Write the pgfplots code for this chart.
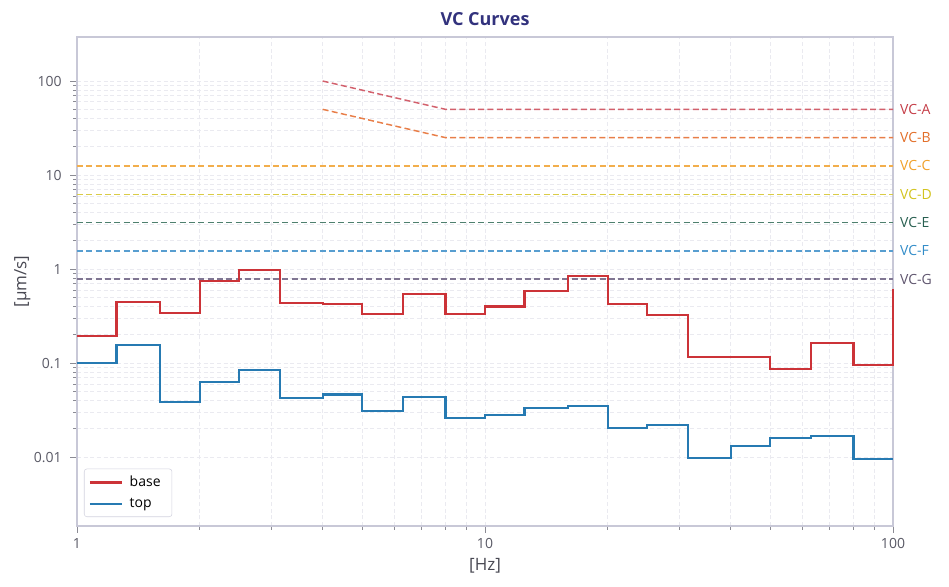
\documentclass[border=0pt]{standalone}
\usepackage{pgfplots}
\pgfplotsset{compat=1.18}
\usepackage{fontspec}
\setmainfont{Open Sans}
\definecolor{base}{RGB}{204,51,56}
\definecolor{top}{RGB}{38,122,178}
\definecolor{vcaL}{RGB}{210,96,108}\definecolor{vcaT}{RGB}{196,60,70}
\definecolor{vcbL}{RGB}{232,126,72}\definecolor{vcbT}{RGB}{226,110,40}
\definecolor{vccL}{RGB}{242,174,76}\definecolor{vccT}{RGB}{240,160,40}
\definecolor{vcdL}{RGB}{218,204,70}\definecolor{vcdT}{RGB}{210,195,30}
\definecolor{vceL}{RGB}{78,128,110}\definecolor{vceT}{RGB}{40,95,80}
\definecolor{vcfL}{RGB}{88,158,208}\definecolor{vcfT}{RGB}{50,140,200}
\definecolor{vcgL}{RGB}{128,118,146}\definecolor{vcgT}{RGB}{95,85,110}
\definecolor{titlec}{RGB}{50,50,125}
\definecolor{tickc}{RGB}{90,90,102}
\definecolor{framec}{RGB}{200,200,215}
\definecolor{gridc}{RGB}{234,234,240}
\pgfplotstableread{
f base top
1 0.194 0.100
1.25 0.446 0.157
1.6 0.340 0.0387
2 0.745 0.0623
2.5 0.970 0.0837
3.15 0.435 0.0422
4 0.424 0.0464
5 0.332 0.0311
6.3 0.542 0.0436
8 0.331 0.0263
10 0.400 0.0280
12.5 0.579 0.0330
16 0.836 0.0347
20 0.424 0.0205
25 0.322 0.0219
31.5 0.115 0.00968
40 0.115 0.0130
50 0.0866 0.0159
63 0.162 0.0167
80 0.095 0.00946
100 0.61 0.00946
}\data
\begin{document}
\begin{tikzpicture}
\useasboundingbox (-57.75bp,-45.75bp) rectangle (654bp,394.5bp);
\begin{axis}[
  at={(0,0)}, anchor=south west,
  scale only axis, width=612bp, height=366.75bp,
  xmode=log, ymode=log,
  xmin=1, xmax=100, ymin=0.00185, ymax=294,
  xtick={1,10,100}, xticklabels={1,10,100},
  ytick={0.01,0.1,1,10,100}, yticklabels={0.01,0.1,1,10,100},
  tick pos=left, tick align=outside,
  major tick length=5bp, minor tick length=3bp,
  every tick/.style={draw=tickc!70, line width=0.6bp},
  axis line style={draw=framec, line width=0.8bp},
  grid=both,
  major grid style={draw=gridc, dash pattern=on 3bp off 2bp, line width=0.6bp},
  minor grid style={draw=gridc, dash pattern=on 3bp off 2bp, line width=0.6bp},
  ticklabel style={font=\fontsize{10.5bp}{12bp}\selectfont, text=tickc},
  /pgf/number format/assume math mode=true,
  yticklabel style={xshift=-3bp},
  xticklabel style={yshift=-1bp},
  title={VC Curves},
  title style={font=\fontsize{13.5bp}{16bp}\selectfont\bfseries, text=titlec, at={(0.5,1)}, anchor=base, yshift=3bp},
  xlabel={[Hz]},
  xlabel style={font=\fontsize{12.75bp}{15bp}\selectfont, text=tickc!80!black, at={(0.5,0)}, anchor=base, yshift=-33.5bp},
  ylabel={[µm/s]},
  ylabel style={font=\fontsize{12.75bp}{15bp}\selectfont, text=tickc!80!black, at={(0,0.5)}, anchor=center, yshift=41bp},
  clip=false,
  legend style={at={(0,0)}, anchor=south west, xshift=5.25bp, yshift=6.75bp,
    draw=framec!80, rounded corners=2bp, fill=white, font=\fontsize{10.5bp}{12bp}\selectfont,
    inner sep=3.5bp, row sep=3bp,
    nodes={inner xsep=5bp}},
  legend cell align=left,
  legend image code/.code={\draw[#1, line width=1.6bp] (0bp,0bp) -- (24bp,0bp);},
]
\pgfplotsset{vc/.style={line width=1.1bp, dash pattern=on 4.5bp off 2.5bp}}
\addplot[vc, color=vcaL, forget plot] coordinates {(4,100) (8,50) (100,50)} node[pos=1, anchor=west, xshift=1.5bp, text=vcaT, font=\fontsize{10.5bp}{12bp}\selectfont] {VC-A};
\addplot[vc, color=vcbL, forget plot] coordinates {(4,50) (8,25) (100,25)} node[pos=1, anchor=west, xshift=1.5bp, text=vcbT, font=\fontsize{10.5bp}{12bp}\selectfont] {VC-B};
\addplot[vc, color=vccL, forget plot] coordinates {(1,12.5) (100,12.5)} node[pos=1, anchor=west, xshift=1.5bp, text=vccT, font=\fontsize{10.5bp}{12bp}\selectfont] {VC-C};
\addplot[vc, color=vcdL, forget plot] coordinates {(1,6.25) (100,6.25)} node[pos=1, anchor=west, xshift=1.5bp, text=vcdT, font=\fontsize{10.5bp}{12bp}\selectfont] {VC-D};
\addplot[vc, color=vceL, forget plot] coordinates {(1,3.125) (100,3.125)} node[pos=1, anchor=west, xshift=1.5bp, text=vceT, font=\fontsize{10.5bp}{12bp}\selectfont] {VC-E};
\addplot[vc, color=vcfL, forget plot] coordinates {(1,1.5625) (100,1.5625)} node[pos=1, anchor=west, xshift=1.5bp, text=vcfT, font=\fontsize{10.5bp}{12bp}\selectfont] {VC-F};
\addplot[vc, color=vcgL, forget plot] coordinates {(1,0.78) (100,0.78)} node[pos=1, anchor=west, xshift=1.5bp, text=vcgT, font=\fontsize{10.5bp}{12bp}\selectfont] {VC-G};
\addplot[const plot, color=base, line width=1.6bp] table[x=f, y=base] {\data};
\addlegendentry{base}
\addplot[const plot, color=top, line width=1.6bp] table[x=f, y=top] {\data};
\addlegendentry{top}
\end{axis}
\end{tikzpicture}
\end{document}
